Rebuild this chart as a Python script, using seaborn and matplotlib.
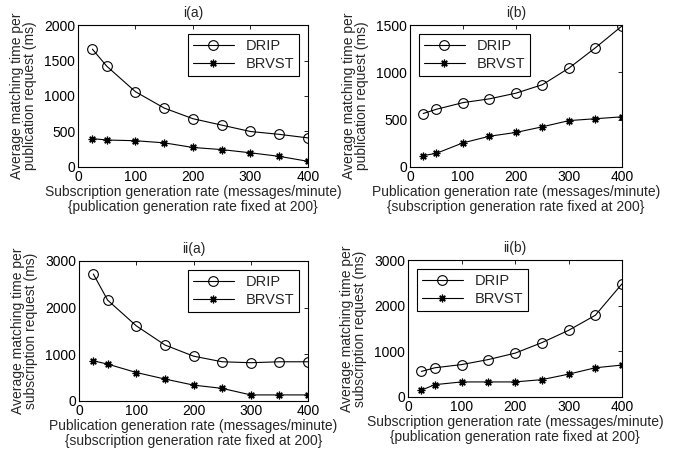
import numpy as np
import pandas as pd
import matplotlib
matplotlib.use('Agg')
import matplotlib.pyplot as plt
import seaborn as sns

# Datos
x_rate = [25, 50, 100, 150, 200, 250, 300, 350, 400]

drip_ia = [1660, 1420, 1060, 830, 680, 590, 500, 460, 410]
brvst_ia = [400, 380, 370, 340, 275, 245, 200, 150, 80]

drip_ib = [565, 610, 680, 720, 780, 870, 1045, 1260, 1490]
brvst_ib = [120, 145, 255, 325, 365, 425, 490, 510, 530]

drip_iia = [2720, 2160, 1610, 1200, 960, 840, 820, 840, 840]
brvst_iia = [860, 790, 610, 470, 340, 270, 130, 130, 130]

drip_iib = [560, 640, 710, 820, 960, 1190, 1460, 1790, 2480]
brvst_iib = [150, 270, 330, 330, 330, 380, 500, 640, 700]

titles = ['i(a)', 'i(b)', 'ii(a)', 'ii(b)']
xlabels = ['Subscription generation rate (messages/minute)\n{publication generation rate fixed at 200}',
           'Publication generation rate (messages/minute)\n{subscription generation rate fixed at 200}',
           'Publication generation rate (messages/minute)\n{subscription generation rate fixed at 200}',
           'Subscription generation rate (messages/minute)\n{publication generation rate fixed at 200}']
ylabels = ['Average matching time per\npublication request (ms)',
           'Average matching time per\npublication request (ms)',
           'Average matching time per\nsubscription request (ms)',
           'Average matching time per\nsubscription request (ms)']
ylims = [(0, 2000), (0, 1500), (0, 3000), (0, 3000)]
yticks = [[0, 500, 1000, 1500, 2000], [0, 500, 1000, 1500],
          [0, 1000, 2000, 3000], [0, 1000, 2000, 3000]]
legend_loc = ['upper right', 'upper left', 'upper right', 'upper left']

series = [(drip_ia, brvst_ia), (drip_ib, brvst_ib), (drip_iia, brvst_iia), (drip_iib, brvst_iib)]

sns.set_style('white')
plt.rcParams['font.family'] = ['Liberation Sans', 'DejaVu Sans']
plt.rcParams['font.size'] = 10

fig = plt.figure(figsize=(6.76, 4.58), dpi=100)
# posiciones de los ejes [left, bottom, width, height]
posiciones = [[0.1154, 0.6354, 0.340, 0.310],
              [0.6065, 0.6354, 0.3136, 0.310],
              [0.1169, 0.1245, 0.3388, 0.3057],
              [0.6036, 0.1332, 0.3166, 0.299]]

asterisco = (8, 2, 0)  # como el '*' de MATLAB

for i in range(4):
    ax = fig.add_axes(posiciones[i])
    drip, brvst = series[i]
    df = pd.DataFrame({'x': x_rate, 'DRIP': drip, 'BRVST': brvst})
    sns.lineplot(data=df, x='x', y='DRIP', ax=ax, color='black', lw=0.8,
                 marker='o', markersize=7, markerfacecolor='none',
                 markeredgecolor='black', markeredgewidth=0.8, label='DRIP')
    sns.lineplot(data=df, x='x', y='BRVST', ax=ax, color='black', lw=0.8,
                 marker=asterisco, markersize=5.5, markerfacecolor='black',
                 markeredgecolor='black', markeredgewidth=0.9, label='BRVST')
    ax.set_xlim(0, 400)
    ax.set_ylim(*ylims[i])
    ax.set_xticks([0, 100, 200, 300, 400])
    ax.set_yticks(yticks[i])
    ax.set_title(titles[i], fontsize=10, pad=6)
    ax.set_xlabel(xlabels[i], fontsize=10, labelpad=1, linespacing=1.1)
    ax.set_ylabel(ylabels[i], fontsize=10, labelpad=5, linespacing=0.95)
    ax.tick_params(direction='in', top=True, right=True, length=3, width=0.6,
                   labelsize=10, pad=2, colors='black')
    for s in ax.spines.values():
        s.set_color('black')
        s.set_linewidth(0.8)
    leg = ax.legend(loc=legend_loc[i], fontsize=10.5, frameon=True, fancybox=False,
                    edgecolor='black', framealpha=1, borderpad=0.35,
                    handlelength=2.8, labelspacing=0.3, borderaxespad=0.6)
    leg.get_frame().set_linewidth(0.8)

fig.savefig('out.png', dpi=100)
